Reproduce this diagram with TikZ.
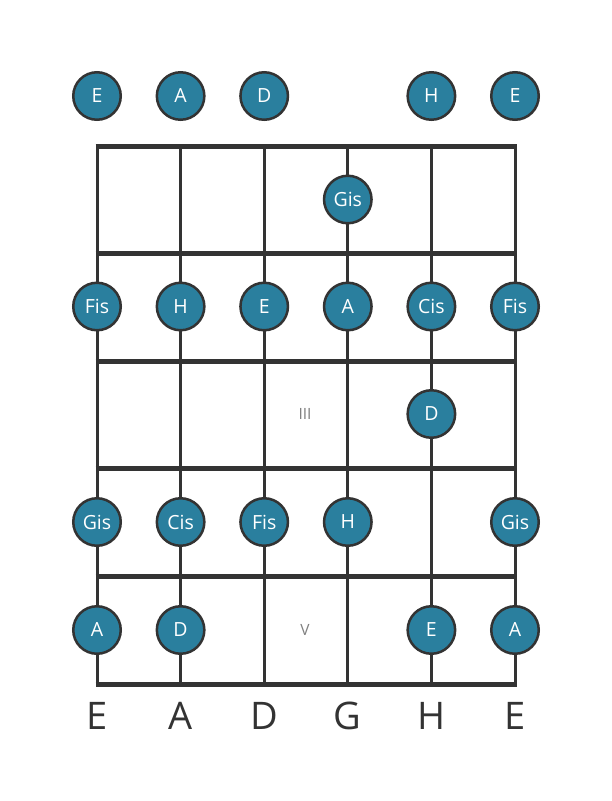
\documentclass[tikz,border=0pt]{standalone}
\usepackage{fontspec}
\setmainfont{Open Sans}
\definecolor{notefill}{HTML}{2A7F9E}
\definecolor{lineclr}{HTML}{333333}
\definecolor{numclr}{HTML}{808080}
\tikzset{
  note/.style={circle,draw=lineclr,line width=2.5pt,fill=notefill,text=white,
    minimum size=47.5pt,inner sep=0pt,font=\fontsize{19.5}{19.5}\selectfont},
  fretline/.style={lineclr,line width=5pt},
  stringline/.style={lineclr,line width=3pt},
  bottomlabel/.style={text=lineclr,font=\fontsize{38}{38}\selectfont},
  fretnum/.style={text=numclr,font=\fontsize{15.5}{15.5}\selectfont}
}
\begin{document}
\begin{tikzpicture}[x=1pt,y=-1pt]
    \useasboundingbox (0,0) rectangle (611,801);
    % strings
    \foreach \s in {0,...,5}
        \draw [stringline] (97+83.6*\s,146) -- (97+83.6*\s,684);
    % frets
    \foreach \f in {0,...,5}
        \draw [fretline] (95.5,146+107.6*\f) -- (516.5,146+107.6*\f);
    % fret numbers
    \node [fretnum] (three) at (305,414) {III};
    \node [fretnum] (five) at (305,630) {V};
    % open strings
    \node [note] (o1) at (97,96) {E};
    \node [note] (o2) at (180.6,96) {A};
    \node [note] (o3) at (264.2,96) {D};
    \node [note] (o5) at (431.4,96) {H};
    \node [note] (o6) at (515,96) {E};
    % fret 1
    \node [note] (a4) at (347.8,199.5) {Gis};
    % fret 2
    \node [note] (b1) at (97,306.5) {Fis};
    \node [note] (b2) at (180.6,306.5) {H};
    \node [note] (b3) at (264.2,306.5) {E};
    \node [note] (b4) at (347.8,306.5) {A};
    \node [note] (b5) at (431.4,306.5) {Cis};
    \node [note] (b6) at (515,306.5) {Fis};
    % fret 3
    \node [note] (c5) at (431.4,414) {D};
    % fret 4
    \node [note] (d1) at (97,522) {Gis};
    \node [note] (d2) at (180.6,522) {Cis};
    \node [note] (d3) at (264.2,522) {Fis};
    \node [note] (d4) at (347.8,522) {H};
    \node [note] (d6) at (515,522) {Gis};
    % fret 5
    \node [note] (e1) at (97,630) {A};
    \node [note] (e2) at (180.6,630) {D};
    \node [note] (e5) at (431.4,630) {E};
    \node [note] (e6) at (515,630) {A};
    % tuning
    \foreach \t [count=\i from 0] in {E,A,D,G,H,E}
        \node [bottomlabel] (t\i) at (97+83.6*\i,716) {\t};
\end{tikzpicture}
\end{document}
